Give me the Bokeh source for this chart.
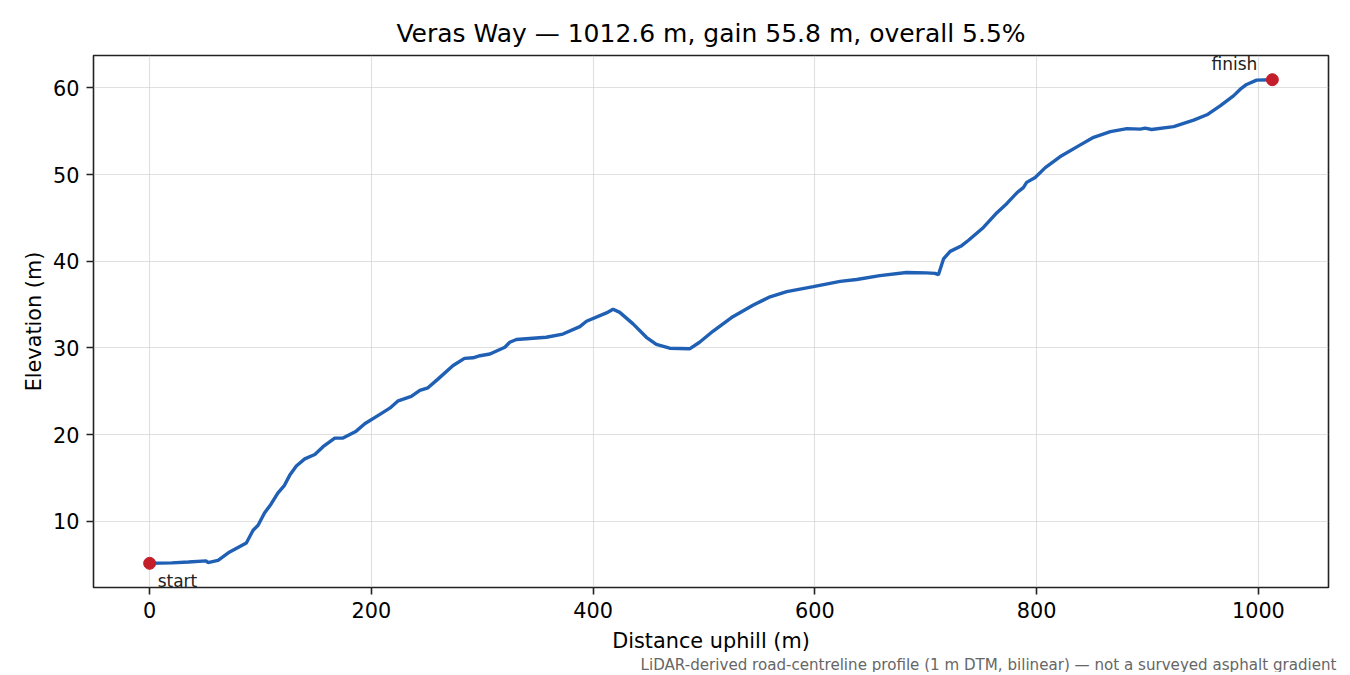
from bokeh.plotting import figure
from bokeh.models import Range1d, Title, ColumnDataSource, FixedTicker
from bokeh.core.properties import value
from bokeh.embed import file_html
from bokeh.resources import INLINE

# ---- data ----
distance_m = [0, 20, 35, 51, 52.6, 61.7, 72.2, 87.2, 93.3, 97.8, 103.6, 109.6,
              115.6, 121.6, 126.3, 132.3, 139.9, 149, 156.4, 167, 174.4, 186.3,
              194, 207.3, 216.6, 224.2, 236, 243.7, 251, 260, 273.7, 284, 291.7,
              298, 306.9, 320.4, 324.8, 330.8, 357.7, 372.7, 388, 394, 412, 418,
              424, 436, 448, 457, 469, 487, 496, 508, 526, 544.5, 559.6, 574.6,
              598.6, 622.8, 637.7, 658.6, 682.5, 700.5, 708.4, 711.4, 716, 722,
              732.4, 738.3, 752, 764.2, 773.2, 782.2, 788, 791, 798.7, 807.8, 821,
              839, 851.4, 866.5, 881.5, 893.5, 897.8, 903.7, 923.6, 941.6, 953.6,
              965.5, 977.5, 983.7, 989.4, 998.4, 1012.6]
elevation_m = [5.15, 5.2, 5.3, 5.43, 5.24, 5.5, 6.46, 7.5, 8.96, 9.54, 10.96, 12.0,
               13.26, 14.15, 15.3, 16.37, 17.2, 17.7, 18.6, 19.6, 19.6, 20.4,
               21.25, 22.3, 23.05, 23.9, 24.4, 25.1, 25.4, 26.4, 27.97, 28.8, 28.86,
               29.1, 29.3, 30.08, 30.66, 30.97, 31.23, 31.6, 32.46, 33.08, 34.04, 34.46,
               34.1, 32.78, 31.23, 30.4, 29.97, 29.9, 30.66, 31.92, 33.6, 34.96, 35.9, 36.5,
               37.07, 37.68, 37.9, 38.34, 38.7, 38.66, 38.6, 38.45, 40.27, 41.14,
               41.8, 42.4, 43.9, 45.6, 46.67, 47.9, 48.5, 49.1, 49.67, 50.8, 52.05,
               53.4, 54.3, 54.96, 55.3, 55.25, 55.36, 55.2, 55.54, 56.28, 56.9,
               57.93, 59.08, 59.85, 60.4, 60.9, 60.95]

end_labels = ["start", "finish"]
end_dist = [distance_m[0], distance_m[-1]]
end_elev = [elevation_m[0], elevation_m[-1]]

x_ticks = [0, 200, 400, 600, 800, 1000]
y_ticks = [10, 20, 30, 40, 50, 60]

title_text = "Veras Way \u2014 1012.6 m, gain 55.8 m, overall 5.5%"
footnote = "LiDAR-derived road-centreline profile (1 m DTM, bilinear) \u2014 not a surveyed asphalt gradient"

FONT = "DejaVu Sans"

# ranges with 5% margins like the reference
xspan = max(distance_m) - min(distance_m)
yspan = max(elevation_m) - min(elevation_m)
x_range = Range1d(min(distance_m) - 0.05 * xspan, max(distance_m) + 0.05 * xspan)
y_range = Range1d(min(elevation_m) - 0.05 * yspan, max(elevation_m) + 0.05 * yspan)

p = figure(width=1345, height=672, output_backend="svg", toolbar_location=None,
           x_range=x_range, y_range=y_range,
           min_border_left=93, min_border_right=17, min_border_top=55, min_border_bottom=85)

p.title.text = title_text
p.title.text_font = FONT
p.title.text_font_size = "25px"
p.title.text_font_style = "normal"
p.title.align = "center"
p.title.text_color = "black"
p.title.standoff = 16

p.outline_line_color = "#222222"
p.outline_line_width = 1.6
p.outline_line_alpha = 1.0

for ax in (p.xaxis[0], p.yaxis[0]):
    ax.axis_line_color = None
    ax.major_tick_line_color = "#222222"
    ax.major_tick_line_width = 1.6
    ax.major_tick_out = 7
    ax.major_tick_in = 0
    ax.minor_tick_line_color = None
    ax.major_label_text_font = FONT
    ax.major_label_text_font_size = "20.8px"
    ax.major_label_text_color = "black"
    ax.axis_label_text_font = FONT
    ax.axis_label_text_font_size = "20.8px"
    ax.axis_label_text_font_style = "normal"
    ax.axis_label_text_color = "black"

p.xaxis.ticker = FixedTicker(ticks=x_ticks)
p.yaxis.ticker = FixedTicker(ticks=y_ticks)
p.xaxis.axis_label = "Distance uphill (m)"
p.yaxis.axis_label = "Elevation (m)"
p.xaxis.major_label_standoff = 7
p.yaxis.major_label_standoff = 7
p.xaxis.axis_label_standoff = 8
p.yaxis.axis_label_standoff = 4

p.grid.grid_line_color = "#cccccc"
p.grid.grid_line_alpha = 0.6
p.grid.grid_line_width = 1.1

src = ColumnDataSource(dict(x=distance_m, y=elevation_m))
p.line("x", "y", source=src, line_color="#1f5fb4", line_width=3.4)

ends = ColumnDataSource(dict(x=end_dist, y=end_elev, t=end_labels,
                             xo=[8, -15], yo=[8, -16],
                             al=["left", "right"], bl=["top", "alphabetic"]))
p.scatter("x", "y", source=ends, size=12, fill_color="#c41e2a", line_color="#c41e2a")
p.text("x", "y", text="t", source=ends, x_offset="xo", y_offset="yo",
       text_align="al", text_baseline="bl",
       text_font=value(FONT), text_font_size="17px", text_color="#222222")

note = Title(text=footnote, align="right", text_font=FONT, text_font_size="15.1px",
             text_font_style="normal", text_color="#666666", standoff=-4, offset=-8)
p.add_layout(note, "below")

open("out.html", "w").write(file_html(p, INLINE))
